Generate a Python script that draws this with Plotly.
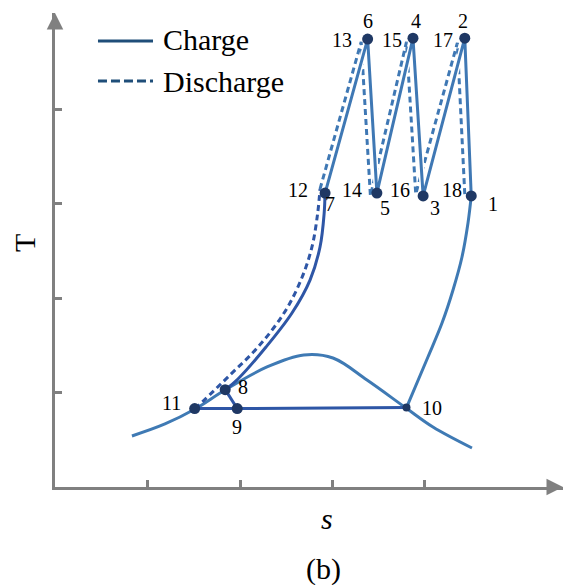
import plotly.graph_objects as go

# ---- state points (s, T) in arbitrary units ----
charge_zig_s = [4.50, 4.43, 3.98, 3.87, 3.48, 3.38, 2.92]   # 1,2,3,4,5,6,7
charge_zig_T = [3.08, 4.75, 3.08, 4.75, 3.11, 4.74, 3.11]

dis_zig_s = [2.865, 3.31, 3.41, 3.80, 3.90, 4.35, 4.43]      # 12..18
dis_zig_T = [3.153, 4.71, 3.08, 4.71, 3.10, 4.70, 3.10]

# 7 -> 8 charge curve
c78_s = [2.919, 2.910, 2.865, 2.757, 2.562, 2.281, 1.978, 1.838]
c78_T = [3.111, 2.899, 2.540, 2.190, 1.841, 1.481, 1.143, 1.026]

# 11 -> 12 discharge curve
d1112_s = [1.514, 1.881, 2.195, 2.476, 2.659, 2.778, 2.840, 2.865]
d1112_T = [0.825, 1.175, 1.481, 1.841, 2.190, 2.540, 2.899, 3.153]

# 10 -> 1 charge curve
c101_s = [3.80, 4.032, 4.184, 4.303, 4.400, 4.465, 4.50]
c101_T = [0.84, 1.376, 1.735, 2.085, 2.434, 2.794, 3.08]

# 8 -> 9 and 11 -> 10 lines
c89_s = [1.84, 1.97]
c89_T = [1.03, 0.83]
c1110_s = [1.51, 1.97, 3.80]
c1110_T = [0.83, 0.83, 0.84]

# saturation dome
dome_s = [0.832, 1.189, 1.514, 1.838, 2.292, 2.690, 3.005, 3.373, 3.795, 4.086, 4.508]
dome_T = [0.540, 0.667, 0.825, 1.026, 1.270, 1.397, 1.365, 1.132, 0.836, 0.635, 0.413]

# marked points
pt_s = [4.50, 4.43, 3.98, 3.87, 3.48, 3.38, 2.92, 1.84, 1.97, 1.51]
pt_T = [3.08, 4.75, 3.08, 4.75, 3.11, 4.74, 3.11, 1.03, 0.83, 0.83]
pt10_s = [3.80]
pt10_T = [0.84]

# point labels
lab_text = ["6", "4", "2", "13", "15", "17", "12", "7", "14", "5", "16", "3", "18", "1",
            "11", "8", "9", "10"]
lab_s = [3.38, 3.90, 4.41, 3.10, 3.64, 4.19, 2.63, 2.97, 3.21, 3.57, 3.73, 4.11, 4.29, 4.74,
         1.26, 2.03, 1.97, 4.08]
lab_T = [4.93, 4.93, 4.93, 4.73, 4.73, 4.73, 3.14, 2.99, 3.14, 2.95, 3.14, 2.95, 3.14, 2.99,
         0.89, 1.06, 0.63, 0.84]

tick_vals = [1, 2, 3, 4]

ZIG = "#3F78B4"
DARK = "#2E56A6"
DOME = "#3F7AB4"
MARK = "#1F3864"
AX = "#808080"
FONT = "Times New Roman, Liberation Serif, DejaVu Serif, serif"

fig = go.Figure()


def add_line(xs, ys, color, dash="solid", width=3, shape="linear", underlay=False):
    if underlay:
        fig.add_trace(go.Scatter(x=xs, y=ys, mode="lines", showlegend=False, hoverinfo="skip",
                                 line=dict(color="white", width=width + 3, shape=shape)))
    fig.add_trace(go.Scatter(x=xs, y=ys, mode="lines", showlegend=False,
                             line=dict(color=color, width=width, dash=dash, shape=shape)))


add_line(dome_s, dome_T, DOME, shape="spline")
add_line(c1110_s, c1110_T, DARK)
add_line(c89_s, c89_T, DARK)
add_line(c101_s, c101_T, DOME, shape="spline")
add_line(d1112_s, d1112_T, DARK, dash="6px,4px", shape="spline")
add_line(c78_s, c78_T, DARK, shape="spline")
add_line(dis_zig_s, dis_zig_T, ZIG, dash="6px,4px", underlay=True)
add_line(charge_zig_s, charge_zig_T, ZIG, underlay=True)

fig.add_trace(go.Scatter(x=pt_s, y=pt_T, mode="markers", showlegend=False,
                         marker=dict(color=MARK, size=11)))
fig.add_trace(go.Scatter(x=pt10_s, y=pt10_T, mode="markers", showlegend=False,
                         marker=dict(color=MARK, size=8)))

annotations = []
for t, x, y in zip(lab_text, lab_s, lab_T):
    annotations.append(dict(x=x, y=y, text=t, showarrow=False, xref="x", yref="y",
                            xanchor="center", yanchor="middle",
                            font=dict(family=FONT, size=20, color="black")))

XMAX = 5.492
YMAX = 5.016
# axis arrowheads
annotations.append(dict(x=XMAX, y=0, xref="x", yref="y", ax=-14, ay=0, text="",
                        showarrow=True, arrowhead=2, arrowsize=1.1, arrowwidth=3,
                        arrowcolor=AX, standoff=0))
annotations.append(dict(x=0, y=YMAX, xref="x", yref="y", ax=0, ay=14, text="",
                        showarrow=True, arrowhead=2, arrowsize=1.1, arrowwidth=3,
                        arrowcolor=AX, standoff=0))

# legend text
annotations.append(dict(x=0.2087, y=0.945, xref="paper", yref="paper", text="Charge",
                        showarrow=False, xanchor="left", yanchor="middle",
                        font=dict(family=FONT, size=30, color="black")))
annotations.append(dict(x=0.2087, y=0.8565, xref="paper", yref="paper", text="Discharge",
                        showarrow=False, xanchor="left", yanchor="middle",
                        font=dict(family=FONT, size=30, color="black")))
# axis titles and caption
annotations.append(dict(x=-0.059, y=0.515, xref="paper", yref="paper", text="T",
                        showarrow=False, textangle=-90, xanchor="center", yanchor="middle",
                        font=dict(family=FONT, size=30, color="black")))
annotations.append(dict(x=0.535, y=-0.066, xref="paper", yref="paper", text="<i>s</i>",
                        showarrow=False, xanchor="center", yanchor="middle",
                        font=dict(family=FONT, size=30, color="black")))
annotations.append(dict(x=0.5295, y=-0.173, xref="paper", yref="paper", text="(b)",
                        showarrow=False, xanchor="center", yanchor="middle",
                        font=dict(family=FONT, size=30, color="black")))

shapes = [
    dict(type="line", xref="paper", yref="paper", x0=0.0846, x1=0.1929, y0=0.941, y1=0.941,
         line=dict(color="#1F4E79", width=3)),
    dict(type="line", xref="paper", yref="paper", x0=0.0846, x1=0.1929, y0=0.8565, y1=0.8565,
         line=dict(color="#1F4E79", width=3, dash="9px,4px")),
]

axis_common = dict(showline=True, linecolor=AX, linewidth=3, ticks="inside", ticklen=7,
                   tickwidth=3, tickcolor=AX, tickvals=tick_vals, showticklabels=False,
                   showgrid=False, zeroline=False, fixedrange=True)

fig.update_layout(
    width=568, height=585,
    margin=dict(l=55, r=5, t=13, b=98),
    plot_bgcolor="white", paper_bgcolor="white",
    font=dict(family=FONT),
    xaxis=dict(range=[0, XMAX], **axis_common),
    yaxis=dict(range=[0, YMAX], **axis_common),
    annotations=annotations,
    shapes=shapes,
    showlegend=False,
)

fig.write_html("out.html")
